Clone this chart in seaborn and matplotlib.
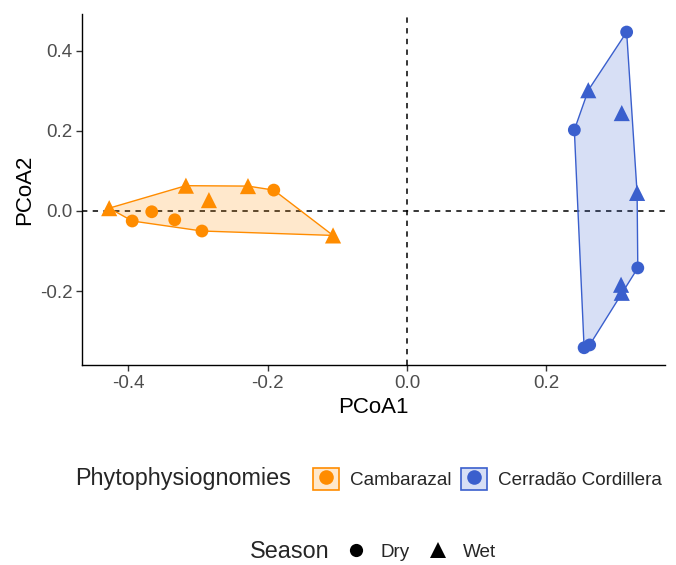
import numpy as np
import pandas as pd
import matplotlib
matplotlib.use("Agg")
import matplotlib.pyplot as plt
from matplotlib.patches import Patch
from matplotlib.lines import Line2D
from matplotlib.legend_handler import HandlerTuple
import seaborn as sns

# ---- data ----
groups = ["Cambarazal"] * 10 + ["Cerradão Cordillera"] * 10
seasons = (["Wet"] * 5 + ["Dry"] * 5) + (["Dry"] * 5 + ["Wet"] * 5)
pcoa1 = [-0.427, -0.317, -0.284, -0.228, -0.106,
         -0.394, -0.366, -0.333, -0.294, -0.191,
         0.315, 0.240, 0.331, 0.254, 0.262,
         0.260, 0.308, 0.330, 0.307, 0.308]
pcoa2 = [0.007, 0.063, 0.027, 0.062, -0.061,
         -0.025, -0.002, -0.022, -0.050, 0.052,
         0.446, 0.202, -0.142, -0.341, -0.334,
         0.301, 0.244, 0.045, -0.184, -0.204]
group_order = ["Cambarazal", "Cerradão Cordillera"]
season_order = ["Dry", "Wet"]
palette = {"Cambarazal": "#FF8C00", "Cerradão Cordillera": "#3A5FCD"}

df = pd.DataFrame({"PCoA1": pcoa1, "PCoA2": pcoa2,
                   "Phytophysiognomies": groups, "Season": seasons})

FONT = ["Liberation Sans", "DejaVu Sans"]
sns.set_theme(style="ticks")
plt.rcParams["font.family"] = FONT


def convex_hull(pts):
    pts = sorted(map(tuple, pts))
    def cross(o, a, b):
        return (a[0]-o[0])*(b[1]-o[1]) - (a[1]-o[1])*(b[0]-o[0])
    lower, upper = [], []
    for p in pts:
        while len(lower) >= 2 and cross(lower[-2], lower[-1], p) <= 0:
            lower.pop()
        lower.append(p)
    for p in reversed(pts):
        while len(upper) >= 2 and cross(upper[-2], upper[-1], p) <= 0:
            upper.pop()
        upper.append(p)
    return np.array(lower[:-1] + upper[:-1])


fig = plt.figure(figsize=(6.76, 5.65), dpi=100)
ax = fig.add_axes([82/676, 1-365/565, (665-82)/676, (365-14)/565])

ax.axhline(0, color="black", lw=1.1, ls=(0, (3.5, 3.5)), zorder=1)
ax.axvline(0, color="black", lw=1.1, ls=(0, (3.5, 3.5)), zorder=1)

for g in group_order:
    sub = df[df["Phytophysiognomies"] == g]
    hull = convex_hull(sub[["PCoA1", "PCoA2"]].values)
    ax.fill(hull[:, 0], hull[:, 1], facecolor=palette[g], alpha=0.2,
            edgecolor="none", zorder=2)
    ax.fill(hull[:, 0], hull[:, 1], facecolor="none", edgecolor=palette[g],
            lw=1.0, zorder=3)

sns.scatterplot(data=df, x="PCoA1", y="PCoA2", hue="Phytophysiognomies",
                hue_order=group_order, palette=palette,
                style="Season", style_order=season_order,
                markers={"Dry": "o", "Wet": "^"},
                size="Season", sizes={"Dry": 85, "Wet": 135},
                linewidth=0, legend=False, ax=ax, zorder=4)

ax.set_xlim(-0.466, 0.370)
ax.set_ylim(-0.384, 0.491)
ax.set_xticks([-0.4, -0.2, 0.0, 0.2])
ax.set_xticklabels(["-0.4", "-0.2", "0.0", "0.2"])
ax.set_yticks([-0.2, 0.0, 0.2, 0.4])
ax.set_yticklabels(["-0.2", "0.0", "0.2", "0.4"])
ax.tick_params(axis="both", labelsize=13.5, labelcolor="#4D4D4D",
               color="#333333", length=4, width=1, pad=3)
for s in ["top", "right"]:
    ax.spines[s].set_visible(False)
for s in ["left", "bottom"]:
    ax.spines[s].set_color("black")
    ax.spines[s].set_linewidth(1.0)
ax.set_xlabel("PCoA1", fontsize=16, color="black", labelpad=4)
ax.set_ylabel("PCoA2", fontsize=16, color="black", labelpad=3)

# ---- legends ----
fig.text(75/676, 1-479/565, "Phytophysiognomies", fontsize=16.8,
         ha="left", va="center")
h1 = []
for g in group_order:
    h1.append((Patch(facecolor=palette[g], alpha=0.2, edgecolor="none"),
               Patch(facecolor="none", edgecolor=palette[g], lw=1.2),
               Line2D([], [], marker="o", ls="none", color=palette[g],
                      markersize=10.5, markeredgewidth=0)))
leg1 = fig.legend(h1, group_order, loc="center left",
                  bbox_to_anchor=(313/676, 1-479/565), ncol=2, frameon=False,
                  fontsize=13.6, handler_map={tuple: HandlerTuple(ndivide=1, pad=0)},
                  handlelength=1.4, handleheight=1.4, handletextpad=0.55,
                  columnspacing=0.5, borderaxespad=0, borderpad=0)

fig.text(250/676, 1-552/565, "Season", fontsize=16.8, ha="left", va="center")
h2 = [Line2D([], [], marker="o", ls="none", color="black", markersize=9.5,
             markeredgewidth=0),
      Line2D([], [], marker="^", ls="none", color="black", markersize=12,
             markeredgewidth=0)]
leg2 = fig.legend(h2, season_order, loc="center left",
                  bbox_to_anchor=(343/676, 1-552/565), ncol=2, frameon=False,
                  fontsize=13.6, handlelength=1.4, handletextpad=0.6,
                  columnspacing=0.8, borderaxespad=0, borderpad=0)

fig.savefig("out.png", dpi=100)
